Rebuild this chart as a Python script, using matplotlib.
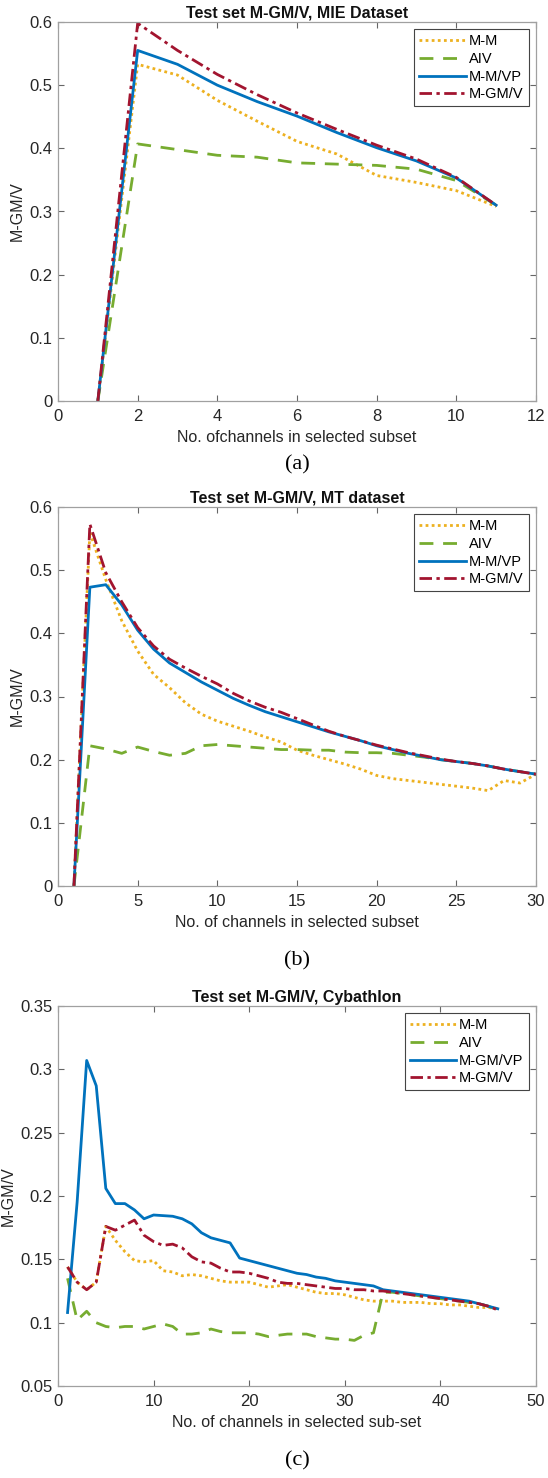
import numpy as np
import matplotlib
matplotlib.use("Agg")
import matplotlib.pyplot as plt

plt.rcParams['font.family'] = ['Liberation Sans', 'DejaVu Sans']

# ---- colours (MATLAB default order) ----
c_mm = '#EDB120'
c_aiv = '#77AC30'
c_vp = '#0072BD'
c_gmv = '#A2142F'

# ---- panel (a): MIE dataset ----
x_a = list(range(1, 12))
mm_a = [0.0, 0.533, 0.516, 0.476, 0.443, 0.411, 0.391, 0.357, 0.346, 0.333, 0.308]
aiv_a = [0.0, 0.407, 0.398, 0.389, 0.386, 0.377, 0.375, 0.373, 0.367, 0.349, 0.310]
vp_a = [0.0, 0.555, 0.533, 0.500, 0.474, 0.451, 0.425, 0.401, 0.380, 0.353, 0.310]
gmv_a = [0.0, 0.598, 0.555, 0.517, 0.485, 0.456, 0.430, 0.405, 0.383, 0.354, 0.310]

# ---- panel (b): MT dataset ----
x_b = list(range(1, 31))
mm_b = [0.0, 0.560, 0.485, 0.420, 0.372, 0.335, 0.314, 0.290, 0.272, 0.261,
        0.253, 0.245, 0.236, 0.228, 0.215, 0.207, 0.200, 0.193, 0.185, 0.175,
        0.170, 0.167, 0.164, 0.161, 0.158, 0.155, 0.151, 0.167, 0.163, 0.177]
aiv_b = [0.0, 0.222, 0.217, 0.210, 0.220, 0.213, 0.207, 0.210, 0.222, 0.224,
         0.222, 0.220, 0.218, 0.216, 0.216, 0.215, 0.215, 0.212, 0.211, 0.211,
         0.210, 0.207, 0.204, 0.200, 0.197, 0.194, 0.190, 0.185, 0.181, 0.177]
vp_b = [0.0, 0.473, 0.477, 0.445, 0.405, 0.375, 0.353, 0.338, 0.323, 0.310,
        0.297, 0.286, 0.276, 0.268, 0.260, 0.252, 0.244, 0.237, 0.230, 0.222,
        0.216, 0.210, 0.205, 0.200, 0.197, 0.194, 0.190, 0.185, 0.181, 0.177]
gmv_b = [0.0, 0.573, 0.496, 0.450, 0.409, 0.380, 0.359, 0.345, 0.332, 0.320,
         0.305, 0.293, 0.283, 0.275, 0.265, 0.255, 0.245, 0.237, 0.230, 0.223,
         0.217, 0.211, 0.206, 0.201, 0.197, 0.194, 0.190, 0.185, 0.181, 0.177]

# ---- panel (c): Cybathlon ----
x_c = list(range(1, 47))
mm_c = [0.144, 0.132, 0.126, 0.132, 0.176, 0.165, 0.156, 0.149, 0.148, 0.149,
        0.141, 0.140, 0.137, 0.138, 0.137, 0.135, 0.133, 0.132, 0.132, 0.132,
        0.130, 0.128, 0.129, 0.130, 0.128, 0.126, 0.124, 0.123, 0.123, 0.122,
        0.120, 0.118, 0.117, 0.117, 0.117, 0.116, 0.116, 0.116, 0.115, 0.115,
        0.114, 0.114, 0.113, 0.112, 0.112, 0.111]
aiv_c = [0.135, 0.102, 0.109, 0.100, 0.097, 0.096, 0.097, 0.097, 0.095, 0.097,
         0.099, 0.097, 0.091, 0.091, 0.092, 0.095, 0.093, 0.092, 0.092, 0.092,
         0.091, 0.089, 0.090, 0.091, 0.091, 0.091, 0.089, 0.088, 0.087, 0.087,
         0.086, 0.090, 0.092, 0.124, 0.124, 0.123, 0.122, 0.121, 0.120, 0.119,
         0.118, 0.117, 0.116, 0.115, 0.113, 0.110]
vp_c = [0.108, 0.195, 0.307, 0.287, 0.206, 0.194, 0.194, 0.189, 0.182, 0.185,
        0.1845, 0.184, 0.182, 0.178, 0.171, 0.167, 0.165, 0.163, 0.151, 0.149,
        0.147, 0.145, 0.143, 0.141, 0.139, 0.138, 0.136, 0.135, 0.133, 0.132,
        0.131, 0.130, 0.129, 0.126, 0.125, 0.124, 0.123, 0.122, 0.121, 0.120,
        0.119, 0.118, 0.117, 0.115, 0.113, 0.111]
gmv_c = [0.144, 0.132, 0.126, 0.132, 0.176, 0.173, 0.177, 0.181, 0.169, 0.164,
         0.161, 0.162, 0.159, 0.152, 0.148, 0.147, 0.143, 0.140, 0.140, 0.139,
         0.137, 0.135, 0.132, 0.131, 0.131, 0.130, 0.129, 0.128, 0.127, 0.127,
         0.126, 0.126, 0.125, 0.125, 0.124, 0.123, 0.122, 0.121, 0.120, 0.119,
         0.118, 0.117, 0.116, 0.115, 0.113, 0.110]

labels_ab = ['M-M', 'AIV', 'M-M/VP', 'M-GM/V']
labels_c = ['M-M', 'AIV', 'M-GM/VP', 'M-GM/V']

W, H = 548, 1478
fig = plt.figure(figsize=(W / 100, H / 100), dpi=100)


def ax_at(top, bottom, left=58, right=536):
    return fig.add_axes([left / W, 1 - bottom / H, (right - left) / W, (bottom - top) / H])


def panel(ax, x, series, labels, title, xlabel, xlim, xticks, ylim, yticks, ytl):
    styles = [(c_mm, (0, (1, 1.2))), (c_aiv, (0, (5, 3.5))),
              (c_vp, '-'), (c_gmv, (0, (4.5, 1.6, 1.2, 1.6)))]
    for (col, ls), y, lab in zip(styles, series, labels):
        ax.plot(x, y, color=col, linestyle=ls, lw=2.0, label=lab)
    ax.set_xlim(*xlim)
    ax.set_ylim(*ylim)
    ax.set_xticks(xticks)
    ax.set_yticks(yticks)
    ax.set_yticklabels(ytl)
    ax.tick_params(direction='in', length=4, width=0.8, colors='#666666',
                   labelcolor='#262626', labelsize=12, top=True, right=True, pad=4)
    ax.tick_params(axis='x', pad=6)
    for sp in ax.spines.values():
        sp.set_color('#a0a0a0')
        sp.set_linewidth(0.9)
    ax.set_title(title, fontsize=11.5, fontweight='bold', color='#111111', pad=3)
    ax.set_xlabel(xlabel, fontsize=11.5, color='#262626', labelpad=4)
    ax.set_ylabel('M-GM/V', fontsize=11.5, color='#262626', labelpad=3)
    leg = ax.legend(loc='upper right', fontsize=10.5, handlelength=3.2, handletextpad=0.2,
                    borderpad=0.35, labelspacing=0.25, fancybox=False, framealpha=1,
                    borderaxespad=0.5)
    leg.get_frame().set_edgecolor('#444444')
    leg.get_frame().set_linewidth(0.8)


ax1 = ax_at(22, 401)
panel(ax1, x_a, [mm_a, aiv_a, vp_a, gmv_a], labels_ab,
      'Test set M-GM/V, MIE Dataset', 'No. ofchannels in selected subset',
      (0, 12), range(0, 13, 2), (0, 0.6), np.arange(0, 0.61, 0.1),
      ['0', '0.1', '0.2', '0.3', '0.4', '0.5', '0.6'])

ax2 = ax_at(507, 886)
panel(ax2, x_b, [mm_b, aiv_b, vp_b, gmv_b], labels_ab,
      'Test set M-GM/V, MT dataset', 'No. of channels in selected subset',
      (0, 30), range(0, 31, 5), (0, 0.6), np.arange(0, 0.61, 0.1),
      ['0', '0.1', '0.2', '0.3', '0.4', '0.5', '0.6'])

ax3 = ax_at(1006, 1386)
panel(ax3, x_c, [mm_c, aiv_c, vp_c, gmv_c], labels_c,
      'Test set M-GM/V, Cybathlon', 'No. of channels in selected sub-set',
      (0, 50), range(0, 51, 10), (0.05, 0.35), np.arange(0.05, 0.351, 0.05),
      ['0.05', '0.1', '0.15', '0.2', '0.25', '0.3', '0.35'])

# captions
for cap, y in [('(a)', 465), ('(b)', 961), ('(c)', 1461)]:
    fig.text(297 / W, 1 - y / H, cap, ha='center', va='center', fontsize=16,
             family=['Liberation Serif', 'DejaVu Serif'])

fig.savefig('out.png', dpi=100)
